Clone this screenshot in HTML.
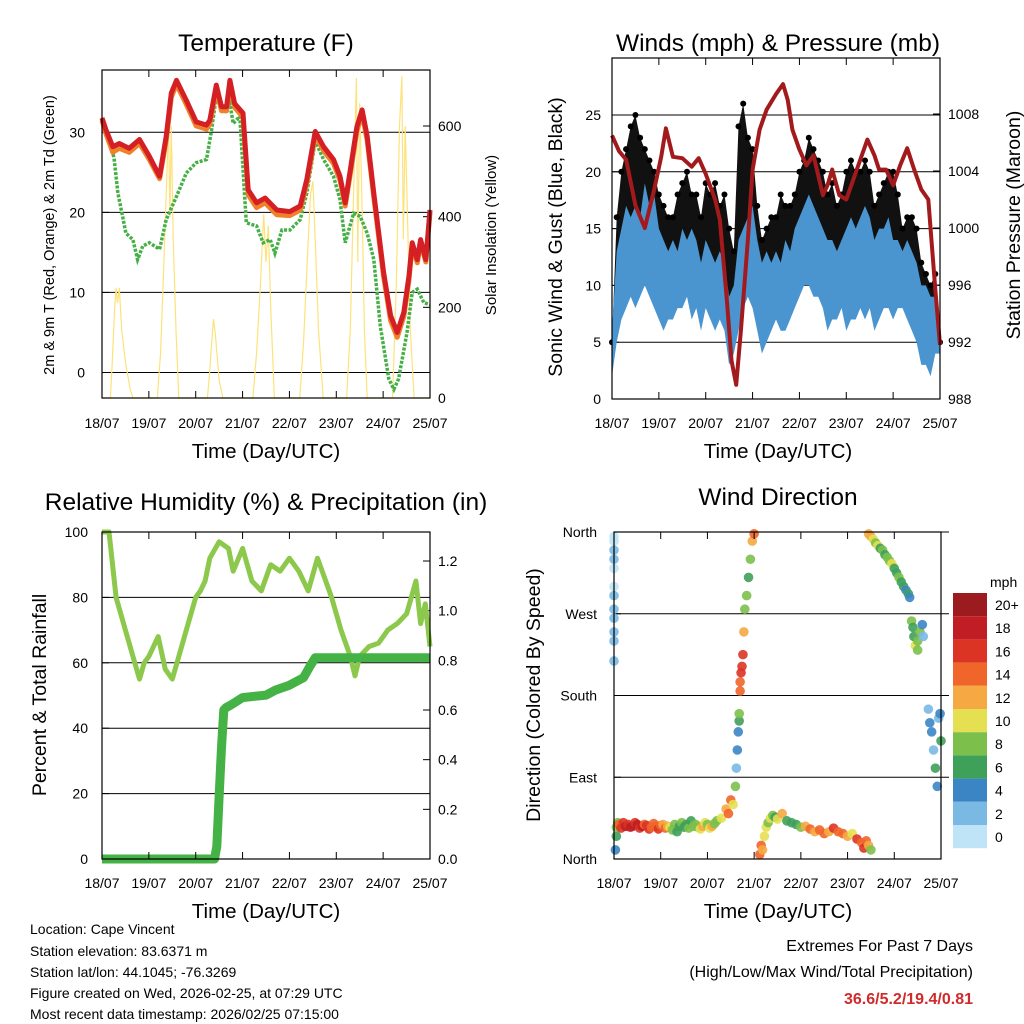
<!DOCTYPE html>
<html><head><meta charset="utf-8"><style>
body{margin:0;background:#fff}
svg{display:block;font-family:"Liberation Sans",Arial,sans-serif}
</style></head><body>
<svg id="fig" width="1024" height="1024" viewBox="0 0 1024 1024" xmlns="http://www.w3.org/2000/svg">
<g font-size="24.5" text-anchor="middle">
<text x="266" y="51">Temperature (F)</text>
<text x="778" y="51">Winds (mph) &amp; Pressure (mb)</text>
<text x="266" y="510">Relative Humidity (%) &amp; Precipitation (in)</text>
<text x="778" y="505">Wind Direction</text>
</g>
<g font-size="20.5" text-anchor="middle">
<text x="266" y="458">Time (Day/UTC)</text>
<text x="778" y="458">Time (Day/UTC)</text>
<text x="266" y="918">Time (Day/UTC)</text>
<text x="778" y="918">Time (Day/UTC)</text>
<text transform="translate(54,235) rotate(-90)" font-size="14.5">2m &amp; 9m T (Red, Orange) &amp; 2m Td (Green)</text>
<text transform="translate(496,235) rotate(-90)" font-size="15">Solar Insolation (Yellow)</text>
<text transform="translate(562,237) rotate(-90)" font-size="19.5">Sonic Wind &amp; Gust (Blue, Black)</text>
<text transform="translate(1020,225) rotate(-90)" font-size="19.5">Station Pressure (Maroon)</text>
<text transform="translate(46,695) rotate(-90)" font-size="19.5">Percent &amp; Total Rainfall</text>
<text transform="translate(540,695) rotate(-90)" font-size="19.5">Direction (Colored By Speed)</text>
</g>
<g font-size="14">
<text x="30" y="934">Location: Cape Vincent</text>
<text x="30" y="956">Station elevation: 83.6371 m</text>
<text x="30" y="977">Station lat/lon: 44.1045; -76.3269</text>
<text x="30" y="998">Figure created on Wed, 2026-02-25, at 07:29 UTC</text>
<text x="30" y="1019">Most recent data timestamp: 2026/02/25 07:15:00</text>
</g>
<g font-size="16" text-anchor="end">
<text x="973" y="951">Extremes For Past 7 Days</text>
<text x="973" y="977">(High/Low/Max Wind/Total Precipitation)</text>
<text x="973" y="1004" fill="#d02a2a" font-weight="bold">36.6/5.2/19.4/0.81</text>
</g>
</svg>
<script>
// ---------- DATA ----------
const dayLabels=["18/07","19/07","20/07","21/07","22/07","23/07","24/07","25/07"];
const tempDays=[0,.085,.23,.37,.58,.80,1.01,1.23,1.37,1.48,1.59,1.80,2.01,2.23,2.30,2.44,2.55,2.66,2.73,2.83,3.01,3.12,3.30,3.48,3.73,4.01,4.23,4.37,4.55,4.73,4.94,5.08,5.19,5.30,5.44,5.55,5.66,5.80,6.01,6.16,6.30,6.44,6.55,6.62,6.73,6.80,6.91,7.0];
const temp2m=[31.8,30.3,28.2,28.6,28.0,29.1,27.0,24.5,29.5,34.9,36.5,34.0,31.3,30.9,31.5,35.9,33.2,33.2,36.5,33.6,32.4,22.8,21.2,21.8,20.3,20.1,20.8,24.1,30.1,28.2,26.6,24.5,21.2,25.3,30.7,32.8,29.5,22.4,12.5,7.1,5.0,7.5,12.0,16.2,14.1,16.6,14.1,20.3];
const temp9m=[31.5,29.8,27.5,28.0,27.5,28.6,26.6,24.2,29.0,34.4,36.0,33.5,30.8,30.4,31.0,35.4,32.7,32.7,36.0,33.1,31.9,22.2,20.6,21.2,19.7,19.6,20.3,23.6,29.6,27.7,26.1,24.0,20.8,24.8,30.2,32.3,29.0,21.9,12.0,6.5,4.4,7.0,11.5,15.8,13.7,16.2,13.8,20.0];
const tdDays=[0,.16,.26,.34,.44,.51,.66,.76,.87,1.01,1.23,1.37,1.59,1.80,2.01,2.23,2.34,2.44,2.59,2.73,2.80,2.94,3.08,3.30,3.44,3.59,3.69,3.84,4.01,4.23,4.37,4.55,4.73,4.94,5.08,5.19,5.37,5.51,5.66,5.80,5.94,6.12,6.23,6.33,6.51,6.62,6.73,6.87,7.0];
const dewpoint=[31.5,29.5,26.6,22.4,19.5,17.4,16.6,14.1,15.8,16.2,15.4,19.1,22.0,24.9,26.2,26.6,30.3,34.5,32.4,33.6,31.1,32.0,18.7,18.3,16.2,16.6,14.9,17.8,17.8,19.1,22.4,28.9,26.6,24.5,21.6,16.2,19.9,19.5,17.4,14.1,5.8,-0.8,-2.1,-0.8,5.0,10.0,10.4,8.7,8.5];
const solarDays=[0,.18,.22,.27,.30,.33,.37,.42,.50,.60,.66,1.18,1.25,1.32,1.38,1.42,1.45,1.48,1.52,1.58,1.64,2.25,2.30,2.34,2.38,2.42,2.50,2.58,3.22,3.30,3.38,3.45,3.50,3.55,3.60,3.68,4.22,4.30,4.38,4.45,4.50,4.55,4.62,4.72,5.22,5.30,5.38,5.43,5.46,5.50,5.55,5.60,5.66,6.20,6.28,6.35,6.40,6.43,6.47,6.52,6.58,6.66,7.0];
const solar=[0,0,80,200,243,210,243,150,80,20,0,0,100,300,480,610,400,600,350,150,0,0,60,120,174,140,40,0,0,100,250,405,300,380,200,0,0,120,300,450,478,350,150,0,0,150,500,706,300,650,420,150,0,0,250,600,710,350,600,400,150,0,0];
const windDays=[0,.1,.2,.3,.4,.5,.6,.7,.8,.9,1.0,1.1,1.2,1.3,1.4,1.5,1.6,1.7,1.8,1.9,2.0,2.1,2.2,2.3,2.4,2.5,2.6,2.7,2.8,2.9,3.0,3.1,3.2,3.3,3.4,3.5,3.6,3.7,3.8,3.9,4.0,4.1,4.2,4.3,4.4,4.5,4.6,4.7,4.8,4.9,5.0,5.1,5.2,5.3,5.4,5.5,5.6,5.7,5.8,5.9,6.0,6.1,6.2,6.3,6.4,6.5,6.6,6.7,6.8,6.9,7.0];
const windLo=[2,5,7,8,9,8,9,10,9,8,7,6,7,7,8,8,9,7,8,6,8,7,6,7,6,3,4,6,8,9,8,6,4,5,6,7,6,6,7,8,9,10,10,9,9,8,6,7,7,8,6,7,7,8,7,8,6,7,8,8,7,8,8,7,6,5,3,3,2,4,4];
const windHi=[6,13,15,17,16,17,16,19,17,18,15,14,13,14,13,15,14,15,14,12,14,13,12,13,12,9,10,14,15,16,17,14,12,13,12,13,12,14,13,15,16,17,18,17,16,15,14,14,13,14,15,16,15,16,17,16,14,15,15,16,14,14,13,14,13,12,10,10,9,9,6];
const gustDays=[0,.1,.2,.3,.4,.5,.6,.7,.8,.9,1.0,1.1,1.2,1.3,1.4,1.5,1.6,1.7,1.8,1.9,2.0,2.1,2.2,2.3,2.4,2.5,2.6,2.7,2.8,2.9,3.0,3.1,3.2,3.3,3.4,3.5,3.6,3.7,3.8,3.9,4.0,4.1,4.2,4.3,4.4,4.5,4.6,4.7,4.8,4.9,5.0,5.1,5.2,5.3,5.4,5.5,5.6,5.7,5.8,5.9,6.0,6.1,6.2,6.3,6.4,6.5,6.6,6.7,6.8,6.9,7.0];
const gust=[5,16,20,22,24,25,23,22,21,20,18,17,16,16,18,19,20,18,18,16,19,18,19,17,18,15,13,24,26,23,22,17,14,15,16,16,18,17,17,18,20,21,23,22,21,20,18,19,17,18,20,21,20,20,21,20,17,18,19,20,20,18,15,16,16,15,12,11,10,11,5];
const presDays=[0,.15,.3,.5,.7,.9,1.05,1.15,1.3,1.5,1.7,1.85,2.0,2.2,2.3,2.45,2.55,2.65,2.75,2.9,3.0,3.15,3.3,3.5,3.65,3.75,3.85,4.0,4.15,4.3,4.4,4.5,4.6,4.7,4.85,5.0,5.15,5.3,5.45,5.6,5.7,5.85,6.0,6.15,6.3,6.45,6.6,6.75,6.9,7.0];
const pressure=[1006.5,1005.4,1004.8,1001.6,1000.0,1002.7,1005.0,1007.0,1005.0,1004.9,1004.3,1004.9,1003.8,1002.0,1000.6,995.0,990.7,989.0,992.8,999.2,1004.1,1006.9,1008.3,1009.4,1010.1,1009.0,1006.9,1005.5,1004.4,1005.1,1003.7,1002.3,1003.0,1004.1,1002.3,1002.0,1003.4,1004.8,1006.2,1005.1,1004.1,1004.1,1003.0,1004.4,1005.6,1004.1,1002.7,1002.0,995.7,991.8];
const rhDays=[0,.15,.3,.5,.7,.8,.9,1.0,1.1,1.2,1.35,1.5,1.6,1.8,2.0,2.1,2.2,2.3,2.5,2.7,2.8,3.0,3.2,3.4,3.6,3.8,4.0,4.2,4.4,4.6,4.7,4.9,5.1,5.3,5.4,5.5,5.7,5.9,6.1,6.3,6.5,6.6,6.7,6.8,6.9,7.0];
const rh=[100,100,80,70,60,55,60,62,65,68,58,55,60,70,80,82,85,92,97,95,88,95,85,82,90,88,92,88,82,92,88,80,70,62,56,62,65,66,70,72,75,80,85,72,78,65];
const precipDays=[0,2.4,2.45,2.5,2.55,2.6,2.65,2.75,3.0,3.5,3.7,4.0,4.3,4.45,4.55,4.7,7.0];
const precip=[0,0,0.05,0.25,0.45,0.6,0.61,0.62,0.65,0.66,0.68,0.70,0.73,0.78,0.81,0.81,0.81];
// wind direction observations: [day, direction deg, speed mph]
const dirStart=[[0,355,1],[0,350,1],[0,340,2],[0,330,2],[0,320,1],[0,300,1],[0,290,2],[0,275,2],[0,265,3],[0,250,2],[0,240,3],[0,218,2],[.03,10,4],[.05,25,7],[.05,35,9],[.08,40,8]];
const dirEasterly1=[[.1,38,14],[.15,34,16],[.2,40,17],[.25,36,18],[.3,38,17],[.35,35,18],[.4,36,19],[.45,40,16],[.5,38,19],[.55,34,17],[.6,36,18],[.65,38,15],[.7,37,17],[.75,33,16],[.8,35,15],[.85,39,14],[.9,36,15],[.95,33,16],[1.0,37,14],[1.05,38,13],[1.1,34,15],[1.15,36,12],[1.2,35,10],[1.25,32,9],[1.3,38,8],[1.35,30,7],[1.4,36,6],[1.45,40,9],[1.5,35,7],[1.55,38,6],[1.6,34,8],[1.65,42,7],[1.7,36,9],[1.75,38,8],[1.8,35,9],[1.85,33,11],[1.9,36,12],[1.95,40,10],[2.0,38,8],[2.05,34,11],[2.1,36,13],[2.15,39,9],[2.2,42,8]];
const dirVeer=[[2.3,45,10],[2.4,55,13],[2.45,50,14],[2.5,65,15],[2.55,60,11],[2.6,80,8],[2.62,100,3],[2.64,120,4],[2.66,140,4],[2.68,152,7],[2.68,160,8],[2.7,185,14],[2.7,195,15],[2.72,205,16],[2.74,212,17],[2.76,225,16],[2.78,250,12],[2.8,275,9],[2.84,290,8],[2.88,310,7],[2.92,330,8],[2.96,350,13],[3.0,358,15]];
const dirEasterly2=[[3.12,5,14],[3.15,15,15],[3.18,10,13],[3.22,25,11],[3.26,35,10],[3.3,40,9],[3.35,45,10],[3.4,48,9],[3.45,46,7],[3.5,44,10],[3.6,50,12],[3.7,42,7],[3.8,40,7],[3.9,38,6],[4.0,35,8],[4.1,36,13],[4.2,33,14],[4.3,30,12],[4.4,32,15],[4.5,28,14],[4.6,30,13],[4.7,34,16],[4.8,30,15],[4.9,28,14],[5.0,25,12],[5.1,28,11],[5.2,22,16],[5.3,18,14],[5.35,12,17],[5.4,20,15],[5.45,15,13],[5.5,10,9]];
const dirNortherly=[[5.45,358,12],[5.5,355,13],[5.55,352,10],[5.6,348,8],[5.65,345,11],[5.7,342,7],[5.75,340,9],[5.8,335,6],[5.85,332,8],[5.9,328,9],[5.95,325,10],[6.0,320,6],[6.05,315,7],[6.1,310,8],[6.15,305,6],[6.2,300,7],[6.25,296,5],[6.3,292,7],[6.33,288,4]];
const dirWesterly=[[6.37,262,9],[6.4,255,7],[6.42,245,6],[6.45,235,10],[6.5,240,8],[6.55,250,9],[6.6,258,4],[6.62,245,3],[6.5,230,8]];
const dirSoutherly=[[6.73,165,3],[6.76,150,4],[6.8,140,5],[6.84,120,3],[6.88,100,6],[6.92,80,4],[6.95,155,3],[6.98,160,5],[7.0,130,6]];
const cbarLabels=["20+","18","16","14","12","10","8","6","4","2","0"];
const cbarColors=["#9c1b1f","#c01e24","#db3425","#ef652a","#f6a843","#e5e051","#7cc04b","#3fa05a","#3c85c5","#7ab9e4","#bfe4f7"];

// ---------- HELPERS ----------
const NS="http://www.w3.org/2000/svg";
const svg=document.getElementById('fig');
function mk(tag,attrs,parent){const e=document.createElementNS(NS,tag);for(const k in attrs)e.setAttribute(k,attrs[k]);(parent||svg).appendChild(e);return e;}
function lin(d0,d1,r0,r1){return v=>r0+(v-d0)*(r1-r0)/(d1-d0);}
function pts(xs,ys,fx,fy){return xs.map((d,i)=>fx(d).toFixed(1)+","+fy(ys[i]).toFixed(1)).join(" ");}

function frame(x0,x1,y0,y1,name){
  const g=mk('g',{});
  
  
  mk('rect',{x:x0,y:y0,width:x1-x0,height:y1-y0,fill:'none',stroke:'#000','stroke-width':1.2},g);
  return g;
}
function xAxis(x0,x1,y0,y1,labY,name){
  const fx=lin(0,7,x0,x1);
  const g=mk('g',{'font-size':14,'text-anchor':'middle'});
  
  
  for(let i=0;i<dayLabels.length;i++){
    const x=fx(i);
    mk('line',{x1:x,x2:x,y1:y1,y2:y1-7,stroke:'#000'},g);
    mk('line',{x1:x,x2:x,y1:y0,y2:y0+7,stroke:'#000'},g);
    const t=mk('text',{x:x,y:labY},g);
    t.textContent=dayLabels[i];
    
    
  }
  return fx;
}
function yTicks(vals,labels,fy,x0,x1,side,labX,grid,anchor,g){
  vals.forEach((v,i)=>{
    const y=fy(v);
    if(grid) mk('line',{x1:x0,x2:x1,y1:y,y2:y,stroke:'#000','stroke-width':1},g);
    if(side==='l') mk('line',{x1:x0,x2:x0+7,y1:y,y2:y,stroke:'#000'},g);
    else mk('line',{x1:x1,x2:x1-7,y1:y,y2:y,stroke:'#000'},g);
    const t=mk('text',{x:labX,y:y+5,'text-anchor':anchor,'font-size':14},g);
    t.textContent=labels[i];
    
    
  });
}

// ---------- PANEL 1: TEMPERATURE ----------
(function(){
  const x0=102,x1=430,y0=70,y1=398;
  const fx=lin(0,7,x0,x1), fy=lin(0,30,372.5,132.3), fs=lin(0,600,398,126);
  const g=mk('g',{});
  
  
  yTicks([0,10,20,30],["0","10","20","30"],fy,x0,x1,'l',85,true,'end',g);
  yTicks([0,200,400,600],["0","200","400","600"],fs,x0,x1,'r',438,false,'start',g);
  const sol=mk('polyline',{points:pts(solarDays,solar,fx,fs),fill:'none',stroke:'#fde27a','stroke-width':1.2},g);
  
  
  const td=mk('polyline',{points:pts(tdDays,dewpoint,fx,fy),fill:'none',stroke:'#45b045','stroke-width':3.5,'stroke-dasharray':'3 1.5'},g);
  
  
  const t9=mk('polyline',{points:pts(tempDays,temp9m,fx,fy),fill:'none',stroke:'#f0802a','stroke-width':5,'stroke-linejoin':'round'},g);
  
  
  const t2=mk('polyline',{points:pts(tempDays,temp2m,fx,fy),fill:'none',stroke:'#d42025','stroke-width':5,'stroke-linejoin':'round'},g);
  
  
  frame(x0,x1,y0,y1,'temperature');
  xAxis(x0,x1,y0,y1,428,'temperature');
})();

// ---------- PANEL 2: WINDS ----------
(function(){
  const x0=612,x1=940,y0=58,y1=399;
  const fx=lin(0,7,x0,x1), fy=lin(0,25,399,115), fp=lin(988,1008,399,114);
  const g=mk('g',{});
  
  
  yTicks([0,5,10,15,20,25],["0","5","10","15","20","25"],fy,x0,x1,'l',601,true,'end',g);
  yTicks([988,992,996,1000,1004,1008],["988","992","996","1000","1004","1008"],fp,x0,x1,'r',948,false,'start',g);
  const gTop=pts(gustDays,gust,fx,fy);
  const gBot=windDays.map((d,i)=>fx(d).toFixed(1)+","+fy(windLo[i]+2).toFixed(1)).reverse().join(" ");
  const gb=mk('polygon',{points:gTop+" "+gBot,fill:'#111'},g);
  
  
  gustDays.forEach((d,i)=>{
    const c=mk('circle',{cx:fx(d),cy:fy(gust[i]),r:3,fill:'#000'},g);
    
    
  });
  const top=pts(windDays,windHi,fx,fy);
  const bot=windDays.map((d,i)=>fx(d).toFixed(1)+","+fy(windLo[i]).toFixed(1)).reverse().join(" ");
  const wb=mk('polygon',{points:top+" "+bot,fill:'#4a95d0'},g);
  
  
  const pl=mk('polyline',{points:pts(presDays,pressure,fx,fp),fill:'none',stroke:'#a31a1d','stroke-width':4,'stroke-linejoin':'round'},g);
  
  
  frame(x0,x1,y0,y1,'winds');
  xAxis(x0,x1,y0,y1,428,'winds');
})();

// ---------- PANEL 3: RH & PRECIP ----------
(function(){
  const x0=102,x1=430,y0=532,y1=859;
  const fx=lin(0,7,x0,x1), fy=lin(0,100,859,532), fr=lin(0,1.2,859,561);
  const g=mk('g',{});
  
  
  yTicks([0,20,40,60,80,100],["0","20","40","60","80","100"],fy,x0,x1,'l',88,false,'end',g);
  [20,40,60,80].forEach(v=>mk('line',{x1:x0,x2:x1,y1:fy(v),y2:fy(v),stroke:'#000'},g));
  yTicks([0,0.2,0.4,0.6,0.8,1.0,1.2],["0.0","0.2","0.4","0.6","0.8","1.0","1.2"],fr,x0,x1,'r',438,false,'start',g);
  const rl=mk('polyline',{points:pts(rhDays,rh,fx,fy),fill:'none',stroke:'#8cc84b','stroke-width':5,'stroke-linejoin':'round'},g);
  
  
  const pr=mk('polyline',{points:pts(precipDays,precip,fx,fr),fill:'none',stroke:'#44b245','stroke-width':9,'stroke-linejoin':'round'},g);
  
  
  frame(x0,x1,y0,y1,'humidity');
  xAxis(x0,x1,y0,y1,888,'humidity');
})();

// ---------- PANEL 4: WIND DIRECTION ----------
(function(){
  const x0=614,x1=941,y0=532,y1=859;
  const fx=lin(0,7,x0,x1), fy=lin(0,360,859,532);
  const g=mk('g',{});
  
  
  yTicks([0,90,180,270,360],["North","East","South","West","North"],fy,x0,x1,'l',597,false,'end',g);
  [90,180,270,360].forEach(v=>mk('line',{x1:x0,x2:x1+8,y1:fy(v),y2:fy(v),stroke:'#000'},g));
  const all=[].concat(dirStart,dirEasterly1,dirVeer,dirEasterly2,dirNortherly,dirWesterly,dirSoutherly);
  all.forEach(p=>{
    const bin=Math.min(10,Math.floor(p[2]/2));
    const c=mk('circle',{cx:fx(p[0]),cy:fy(p[1]),r:4.8,fill:cbarColors[10-bin],'fill-opacity':0.9},g);
    
    
  });
  frame(x0,x1,y0,y1,'wind-direction');
  xAxis(x0,x1,y0,y1,888,'wind-direction');
  const cb=mk('g',{});
  
  
  const t=mk('text',{x:990,y:587,'font-size':14},cb);
  t.textContent="mph";
  
  
  cbarColors.forEach((c,i)=>{
    const r=mk('rect',{x:953,y:593+i*23.2,width:34,height:23.2,fill:c},cb);
    
    
    const l=mk('text',{x:995,y:610+i*23.2,'font-size':14},cb);
    l.textContent=cbarLabels[i];
    
    
  });
})();
</script>
</body></html>
